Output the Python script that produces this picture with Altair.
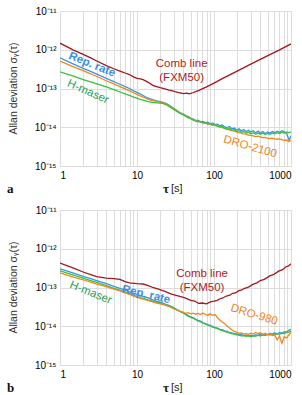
import altair as alt
import pandas as pd

# ---- averaging times (s) ----
tau_lo = [1, 1.5, 2, 2.5, 3, 4, 5, 6, 7, 8, 9, 10, 11, 12, 13, 14, 16, 18, 20, 22, 24, 26, 28, 30, 33, 36]
tau_hi = [40, 43, 46, 50, 54, 58, 62, 67, 72, 77, 83, 89, 96, 103, 111, 119, 128, 137, 147, 158,
          170, 183, 196, 211, 226, 243, 261, 280, 301, 323, 347, 373, 400, 430, 462, 496, 533, 572,
          614, 660, 709, 761, 818, 878, 943, 1000]
tau_all = tau_lo + tau_hi

tau_comb_a = [1, 1.5, 2, 2.5, 3, 4, 5, 6, 7, 8, 9, 10, 11, 12, 14, 16, 18, 20, 23, 26, 29, 32, 36, 40,
              44, 48, 53, 58, 64, 70, 80, 100, 130, 160, 200, 300, 400, 500, 700, 1000]
tau_comb_b = [1, 1.5, 2, 2.5, 3, 4, 5, 6, 7, 8, 10, 12, 14, 16, 19, 23, 28, 35, 42, 50, 56, 63, 70, 80,
              90, 100, 110, 120, 130, 145, 160, 175, 190, 210, 230, 250, 280, 320, 360, 400, 450, 530,
              600, 700, 780, 850, 920, 1000]

# ---- panel a: log10 of Allan deviation ----
comb_a = [-11.83, -12.01, -12.12, -12.21, -12.29, -12.41, -12.49, -12.55, -12.60, -12.64, -12.70, -12.74,
          -12.75, -12.77, -12.84, -12.92, -12.95, -12.98, -13.01, -13.04, -13.06, -13.09, -13.11, -13.13,
          -13.12, -13.14, -13.11, -13.08, -13.05, -13.01, -12.96, -12.86, -12.74, -12.65, -12.55, -12.37,
          -12.25, -12.15, -12.01, -11.85]
rep_a = [-12.21, -12.37, -12.48, -12.56, -12.63, -12.74, -12.82, -12.89, -12.95, -13.00, -13.06, -13.10,
         -13.14, -13.18, -13.22, -13.25, -13.29, -13.32, -13.34, -13.36, -13.39, -13.43, -13.47, -13.51,
         -13.57, -13.62,
         -13.66, -13.70, -13.72, -13.77, -13.79, -13.83, -13.82, -13.86, -13.85, -13.88, -13.87, -13.91,
         -13.89, -13.93, -13.92, -13.96, -13.94, -13.99, -14.01, -13.98, -14.04, -14.02, -14.07, -14.04,
         -14.09, -14.06, -14.11, -14.08, -14.12, -14.09, -14.14, -14.10, -14.15, -14.11, -14.16, -14.12,
         -14.15, -14.11, -14.14, -14.10, -14.13, -14.09, -14.12, -14.16, -14.33, -14.22]
dro_a = [-12.29, -12.44, -12.54, -12.62, -12.69, -12.80, -12.88, -12.95, -13.01, -13.06, -13.11, -13.15,
         -13.19, -13.22, -13.25, -13.28, -13.31, -13.33, -13.35, -13.37, -13.40, -13.44, -13.48, -13.52,
         -13.58, -13.63,
         -13.67, -13.71, -13.74, -13.78, -13.81, -13.83, -13.85, -13.86, -13.88, -13.89, -13.91, -13.92,
         -13.94, -13.95, -13.97, -13.99, -14.01, -14.03, -14.05, -14.07, -14.09, -14.10, -14.12, -14.14,
         -14.15, -14.17, -14.18, -14.20, -14.21, -14.22, -14.24, -14.23, -14.25, -14.27, -14.26, -14.28,
         -14.29, -14.28, -14.30, -14.31, -14.30, -14.32, -14.34, -14.33, -14.37, -14.33]
hm_a = [-12.57, -12.68, -12.77, -12.83, -12.88, -12.96, -13.03, -13.09, -13.14, -13.18, -13.22, -13.25,
        -13.28, -13.30, -13.32, -13.34, -13.36, -13.37, -13.38, -13.39, -13.42, -13.46, -13.50, -13.54,
        -13.59, -13.64,
        -13.68, -13.72, -13.75, -13.78, -13.82, -13.84, -13.86, -13.85, -13.89, -13.88, -13.92, -13.90,
        -13.95, -13.93, -13.97, -13.99, -13.98, -14.03, -14.05, -14.03, -14.08, -14.06, -14.11, -14.09,
        -14.13, -14.11, -14.15, -14.13, -14.17, -14.14, -14.18, -14.15, -14.18, -14.15, -14.19, -14.16,
        -14.18, -14.15, -14.17, -14.14, -14.16, -14.13, -14.15, -14.12, -14.14, -14.12]

# ---- panel b: log10 of Allan deviation ----
comb_b = [-12.37, -12.50, -12.60, -12.67, -12.72, -12.76, -12.77, -12.79, -12.85, -12.88, -12.90, -12.91,
          -12.95, -13.00, -13.04, -13.10, -13.17, -13.22, -13.27, -13.33, -13.35, -13.41, -13.40, -13.42,
          -13.37, -13.35, -13.33, -13.29, -13.27, -13.22, -13.20, -13.15, -13.14, -13.08, -13.06, -13.02,
          -12.99, -12.92, -12.88, -12.82, -12.79, -12.70, -12.66, -12.57, -12.54, -12.47, -12.45, -12.39]
rep_b = [-12.52, -12.63, -12.71, -12.77, -12.82, -12.90, -12.97, -13.02, -13.07, -13.11, -13.15, -13.18,
         -13.21, -13.23, -13.25, -13.27, -13.32, -13.36, -13.38, -13.41, -13.44, -13.46, -13.49, -13.52,
         -13.57, -13.61,
         -13.65, -13.69, -13.72, -13.76, -13.78, -13.82, -13.85, -13.87, -13.91, -13.93, -13.96, -13.98,
         -14.01, -14.03, -14.05, -14.08, -14.09, -14.12, -14.13, -14.16, -14.17, -14.19, -14.20, -14.22,
         -14.21, -14.24, -14.23, -14.25, -14.23, -14.26, -14.22, -14.24, -14.20, -14.23, -14.19, -14.22,
         -14.18, -14.21, -14.17, -14.20, -14.16, -14.18, -14.14, -14.15, -14.10, -14.08]
hm_b = [-12.57, -12.68, -12.76, -12.82, -12.87, -12.95, -13.02, -13.07, -13.12, -13.16, -13.20, -13.23,
        -13.26, -13.28, -13.30, -13.32, -13.35, -13.38, -13.40, -13.43, -13.45, -13.48, -13.50, -13.53,
        -13.58, -13.62,
        -13.66, -13.70, -13.74, -13.77, -13.80, -13.83, -13.86, -13.89, -13.92, -13.94, -13.97, -13.99,
        -14.02, -14.04, -14.06, -14.09, -14.11, -14.13, -14.15, -14.17, -14.19, -14.20, -14.22, -14.23,
        -14.25, -14.24, -14.26, -14.25, -14.27, -14.24, -14.26, -14.23, -14.25, -14.22, -14.24, -14.21,
        -14.23, -14.20, -14.22, -14.19, -14.21, -14.18, -14.19, -14.16, -14.15, -14.12]
dro_b = [-12.62, -12.73, -12.80, -12.86, -12.91, -12.98, -13.04, -13.09, -13.14, -13.18, -13.22, -13.25,
         -13.28, -13.30, -13.32, -13.34, -13.37, -13.40, -13.42, -13.44, -13.47, -13.49, -13.52, -13.55,
         -13.58, -13.61,
         -13.64, -13.67, -13.65, -13.68, -13.66, -13.69, -13.67, -13.70, -13.66, -13.69, -13.72, -13.68,
         -13.72, -13.70, -13.78, -13.84, -13.89, -13.93, -13.99, -14.04, -14.09, -14.13, -14.15, -14.18,
         -14.17, -14.20, -14.19, -14.21, -14.18, -14.20, -14.16, -14.19, -14.17, -14.21, -14.18, -14.22,
         -14.20, -14.24, -14.22, -14.35, -14.25, -14.44, -14.27, -14.30, -14.22, -14.16]

# ---- curve labels (text, tau, log10 sigma, angle) ----
labels_a = [
    ("Comb line", 38, -12.38, 0), ("(FXM50)", 38, -12.74, 0),
    ("Rep. rate", 2.6, -12.39, 22), ("H-maser", 2.3, -13.09, 24), ("DRO-2100", 294, -14.51, 16),
]
labels_b = [
    ("Comb line", 70, -12.65, 0), ("(FXM50)", 70, -13.01, 0),
    ("Rep. rate", 13.1, -13.19, 13), ("H-maser", 2.5, -13.14, 22), ("DRO-980", 331, -13.71, 17),
]

COMB = "#a3171f"
REP = "#3b97e0"
DRO = "#f2861e"
HM = "#37c23b"
label_color = {"Comb line": "#b01c22", "(FXM50)": "#b01c22", "Rep. rate": "#3b8fe3",
               "H-maser": "#2d9d55", "DRO-2100": "#ee8524", "DRO-980": "#ee8524"}

W, H = 231, 155
x_scale = alt.Scale(type="log", domain=[1, 1000], nice=False)
y_scale = alt.Scale(type="log", domain=[1e-15, 1e-11], nice=False)

x_grid_vals = [m * 10 ** k for k in range(3) for m in range(1, 10)] + [1000]
y_vals = [1e-15, 1e-14, 1e-13, 1e-12, 1e-11]

x_axis = alt.Axis(values=x_grid_vals, title=None, ticks=False, domain=False, labelPadding=4,
                  labelExpr="datum.value == 1 ? '1' : datum.value == 10 ? '10' : "
                            "datum.value == 100 ? '100' : datum.value == 1000 ? '1000' : ''")
y_axis = alt.Axis(values=y_vals, title=None, ticks=False, domain=False, labelPadding=4,
                  labelExpr="datum.value < 5e-15 ? '10⁻¹⁵' : datum.value < 5e-14 ? '10⁻¹⁴' : "
                            "datum.value < 5e-13 ? '10⁻¹³' : datum.value < 5e-12 ? '10⁻¹²' : '10⁻¹¹'")

X_ENC = alt.X("tau:Q", scale=x_scale, axis=x_axis)
Y_ENC = alt.Y("sigma:Q", scale=y_scale, axis=y_axis)


def series_frame(taus, logs):
    return pd.DataFrame({"tau": taus, "sigma": [10.0 ** v for v in logs]})


def curve(taus, logs, color):
    return alt.Chart(series_frame(taus, logs)).mark_line(
        color=color, strokeWidth=1.3, clip=True
    ).encode(x=X_ENC, y=Y_ENC)


def annotations(rows):
    out = []
    for text, t, logsig, angle in rows:
        df = pd.DataFrame({"text": [text], "tau": [t], "sigma": [10.0 ** logsig]})
        out.append(
            alt.Chart(df).mark_text(
                font="Liberation Sans", fontSize=11.5, angle=angle,
                fontWeight="bold" if text == "Rep. rate" else "normal",
                color=label_color[text], align="center", baseline="middle",
            ).encode(x=X_ENC, y=Y_ENC, text="text:N")
        )
    return out


def decorations(letter):
    y_title = alt.Chart(pd.DataFrame({"t": ["Allan deviation σᵧ(τ)"]})).mark_text(
        font="Liberation Sans", fontSize=10.5, color="#333", angle=270, align="center",
        baseline="middle").encode(x=alt.value(-46), y=alt.value(H / 2), text="t:N")
    tau_sym = alt.Chart(pd.DataFrame({"t": ["τ"]})).mark_text(
        font="Liberation Serif", fontSize=13, fontWeight="bold", color="#222", align="right",
        baseline="middle").encode(x=alt.value(109), y=alt.value(H + 23), text="t:N")
    unit = alt.Chart(pd.DataFrame({"t": ["[s]"]})).mark_text(
        font="Liberation Sans", fontSize=11, color="#222", align="left",
        baseline="middle").encode(x=alt.value(111), y=alt.value(H + 23), text="t:N")
    tag = alt.Chart(pd.DataFrame({"t": [letter]})).mark_text(
        font="Liberation Serif", fontSize=13, fontWeight="bold", color="#111", align="left",
        baseline="middle").encode(x=alt.value(-53), y=alt.value(H + 23), text="t:N")
    return [y_title, tau_sym, unit, tag]


panel_a = alt.layer(
    curve(tau_all, rep_a, REP),
    curve(tau_all, dro_a, DRO),
    curve(tau_all, hm_a, HM),
    curve(tau_comb_a, comb_a, COMB),
    *annotations(labels_a),
    *decorations("a"),
).properties(width=W, height=H)

panel_b = alt.layer(
    curve(tau_all, rep_b, REP),
    curve(tau_all, hm_b, HM),
    curve(tau_all, dro_b, DRO),
    curve(tau_comb_b, comb_b, COMB),
    *annotations(labels_b),
    *decorations("b"),
).properties(width=W, height=H)

chart = alt.vconcat(panel_a, panel_b, spacing=44, bounds="flush").properties(
    padding={"left": 6, "top": 5, "right": 4, "bottom": 4}
).configure_view(
    stroke="#4d4d4d", strokeWidth=1
).configure_axis(
    gridColor="#dcdcdc", gridWidth=1, labelFont="Liberation Sans", labelFontSize=10,
    labelColor="#222"
).configure(background="white")

chart.save("out.html", embed_options={"renderer": "svg", "actions": False})
